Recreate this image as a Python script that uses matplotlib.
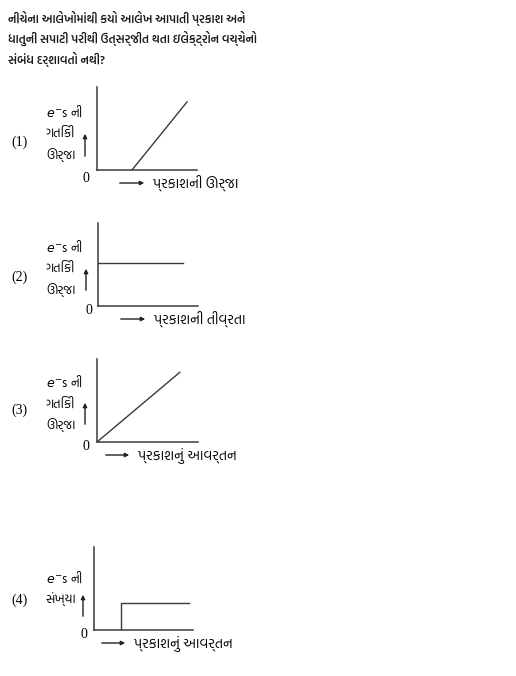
import matplotlib
matplotlib.use('Agg')
import matplotlib.pyplot as plt

guj = ['Hind Vadodara', 'DejaVu Sans']
num = ['Liberation Serif', 'DejaVu Serif']

question = ['નીચેના આલેખોમાંથી કયો આલેખ આપાતી પ્રકાશ અને',
            'ધાતુની સપાટી પરીથી ઉત્સર્જીત થતા ઇલેક્ટ્રોન વચ્ચેનો',
            'સંબંધ દર્શાવતો નથી?']

options = ['(1)', '(2)', '(3)', '(4)']
y_labels = [['$e^{-}$s ની', 'ગતિકી', 'ઊર્જા'],
            ['$e^{-}$s ની', 'ગતિકી', 'ઊર્જા'],
            ['$e^{-}$s ની', 'ગતિકી', 'ઊર્જા'],
            ['$e^{-}$s ની', 'સંખ્યા']]
x_labels = ['પ્રકાશની ઊર્જા', 'પ્રકાશની તીવ્રતા', 'પ્રકાશનું આવર્તન', 'પ્રકાશનું આવર્તન']

# curves (x, y) in a 0..10 box
curve_x = [[3.5, 9.0], [0, 8.5], [0, 8.2], [2.7, 2.7, 9.6]]
curve_y = [[0, 8.2], [5.2, 5.2], [0, 8.4], [0, 3.25, 3.25]]

W, H = 516, 676
fig = plt.figure(figsize=(W / 100, H / 100), dpi=100)

def px(x, y):
    return x / W, 1 - y / H

for i, line in enumerate(question):
    fig.text(*px(8, 18 + i * 20.5), line, fontsize=8.4, family=guj, weight='semibold',
             va='center', ha='left', color='#1a1a1a')

# axes boxes in pixels: left, top, right, bottom
boxes = [(97, 87, 197, 170), (98, 223, 198, 306), (97, 359, 198, 442), (94, 547, 193, 630)]
opt_y = [142, 277, 410, 600]
lab_y = [[112, 133, 155], [247, 268, 290], [382, 404, 425], [578, 599]]
arrow_up = [(85, 159, 131), (86, 293, 266), (85, 427, 400), (83, 619, 592)]
arrow_x = [(117, 147, 183), (118, 148, 319), (103, 132, 455), (99, 128, 643)]
zero_pos = [(86, 179), (89, 310), (86, 446), (84, 635)]

for k in range(4):
    l, t, r, b = boxes[k]
    ax = fig.add_axes([l / W, 1 - b / H, (r - l) / W, (b - t) / H])
    ax.plot(curve_x[k], curve_y[k], color='#3a3a3a', lw=1.0)
    ax.set_xlim(0, 10)
    ax.set_ylim(0, 10)
    ax.spines['top'].set_visible(False)
    ax.spines['right'].set_visible(False)
    for s in ['left', 'bottom']:
        ax.spines[s].set_color('#3a3a3a')
        ax.spines[s].set_linewidth(1.1)
    ax.set_xticks([])
    ax.set_yticks([])
    ax.patch.set_alpha(0)

    fig.text(*px(19, opt_y[k]), options[k], fontsize=10, family=num, va='center', ha='center')
    for j, s in enumerate(y_labels[k]):
        fig.text(*px(46, lab_y[k][j]), s, fontsize=9, family=guj, va='center', ha='left')
    ux, uy0, uy1 = arrow_up[k]
    fig.add_artist(matplotlib.patches.FancyArrowPatch(px(ux, uy0), px(ux, uy1), transform=fig.transFigure,
                                                      arrowstyle='-|>', mutation_scale=6, color='#222222', lw=1.0))
    ax0, ax1, ay = arrow_x[k]
    fig.add_artist(matplotlib.patches.FancyArrowPatch(px(ax0, ay), px(ax1, ay), transform=fig.transFigure,
                                                      arrowstyle='-|>', mutation_scale=6, color='#222222', lw=1.0))
    fig.text(*px(ax1 + 6, ay), x_labels[k], fontsize=10, family=guj, va='center', ha='left')
    fig.text(*px(*zero_pos[k]), '0', fontsize=10, family=num, va='center', ha='center')

fig.savefig('out.png', dpi=100)
